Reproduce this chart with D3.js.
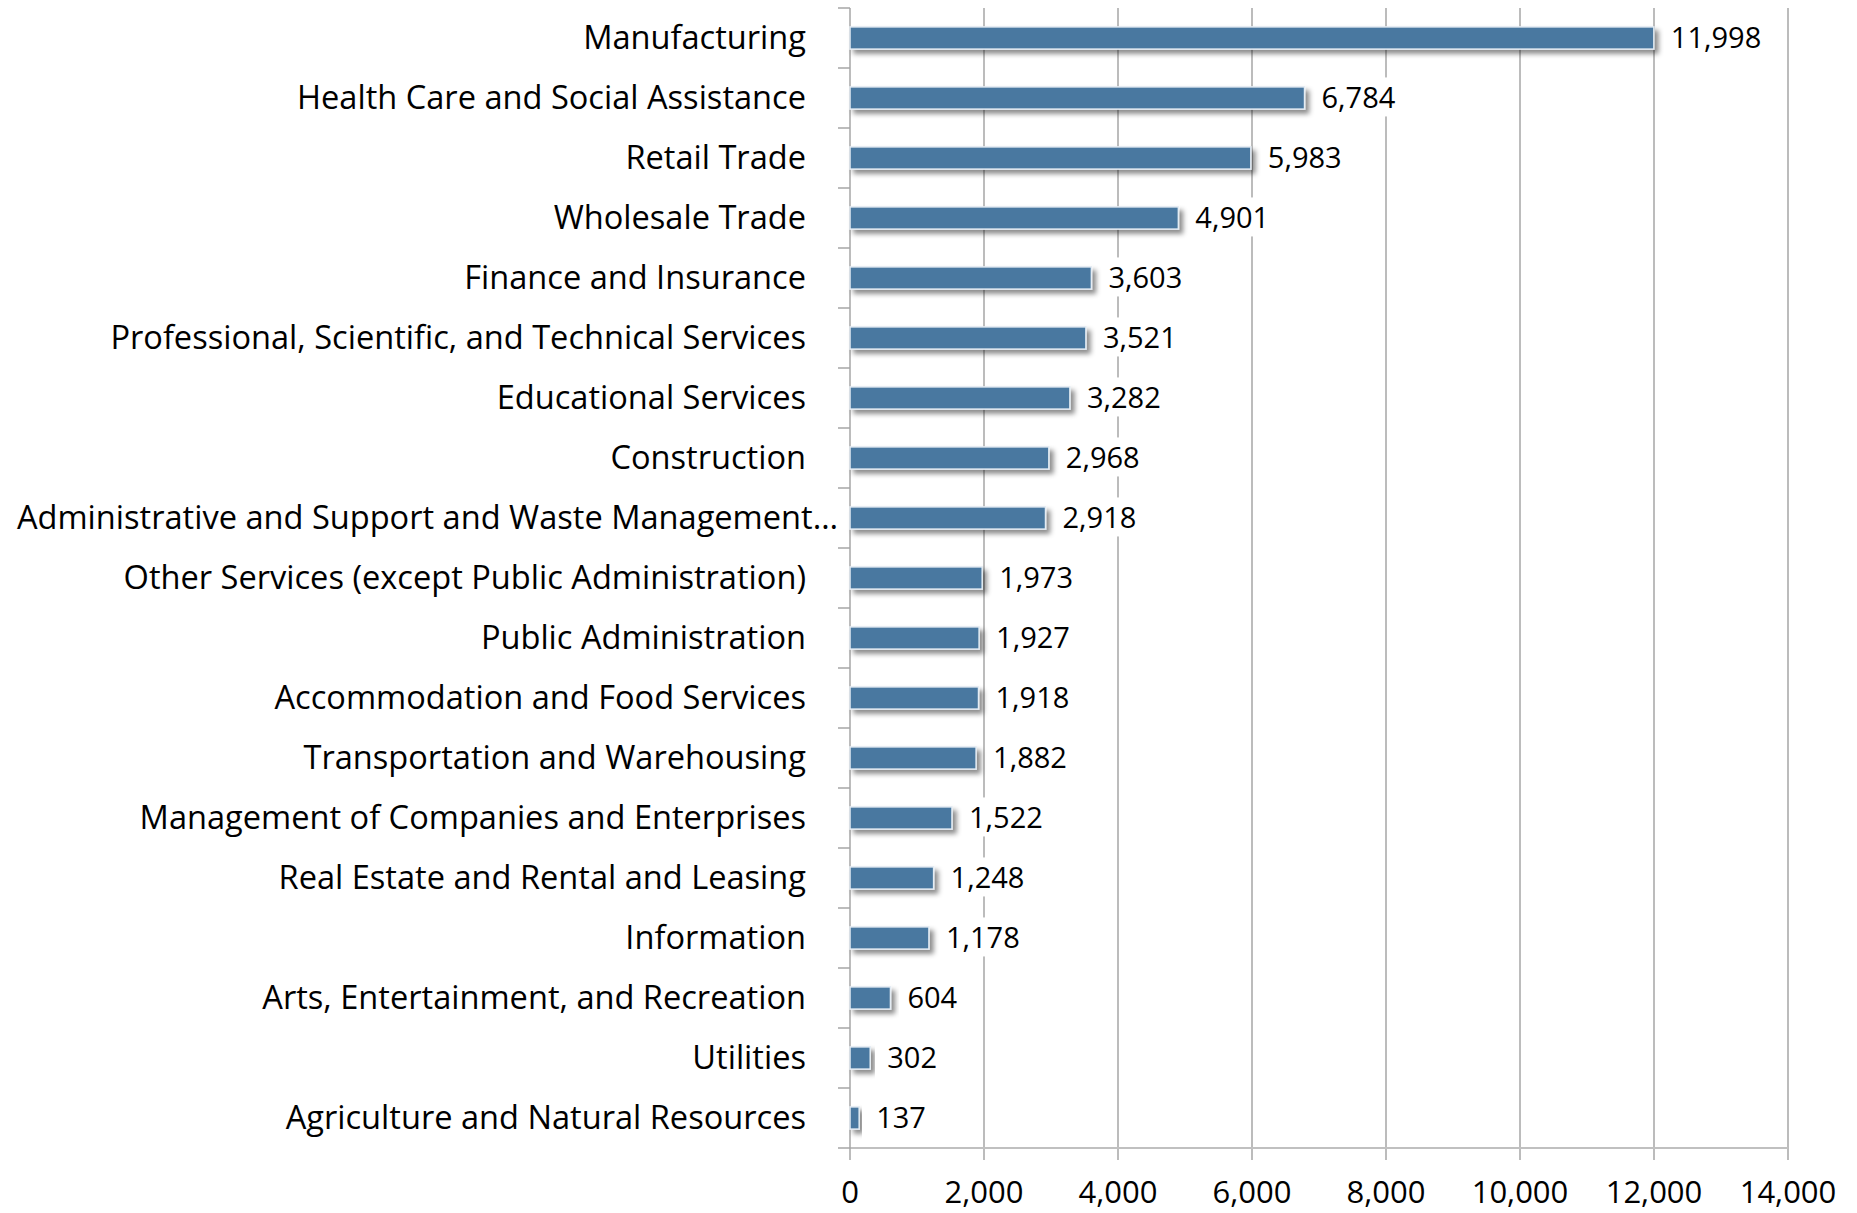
<!DOCTYPE html>
<html>
<head>
<meta charset="utf-8">
<script src="https://cdn.jsdelivr.net/npm/d3@7"></script>
<style>
  body { margin: 0; background: #fff; }
  text { font-family: "Open Sans", sans-serif; fill: #000; }
</style>
</head>
<body>
<svg id="canvas" width="1857" height="1213"></svg>
<script>
let industries = [
    "Manufacturing",
    "Health Care and Social Assistance",
    "Retail Trade",
    "Wholesale Trade",
    "Finance and Insurance",
    "Professional, Scientific, and Technical Services",
    "Educational Services",
    "Construction",
    "Administrative and Support and Waste Management…",
    "Other Services (except Public Administration)",
    "Public Administration",
    "Accommodation and Food Services",
    "Transportation and Warehousing",
    "Management of Companies and Enterprises",
    "Real Estate and Rental and Leasing",
    "Information",
    "Arts, Entertainment, and Recreation",
    "Utilities",
    "Agriculture and Natural Resources"
]

let employees = [11998, 6784, 5983, 4901, 3603, 3521, 3282, 2968, 2918, 1973, 1927, 1918, 1882, 1522, 1248, 1178, 604, 302, 137]

let xTicks = [0, 2000, 4000, 6000, 8000, 10000, 12000, 14000]

let canvas = d3.select("#canvas")

let plotLeft = 850
let plotRight = 1788
let plotTop = 8
let plotBottom = 1148

let xScale = d3.scaleLinear()
                .domain([0, 14000])
                .range([plotLeft, plotRight])

let yScale = d3.scaleBand()
                .domain(industries)
                .range([plotTop, plotBottom])

let barHeight = yScale.bandwidth() * 0.37
let fmt = d3.format(",")

// drop shadow for the bars
let defs = canvas.append("defs")
let shadow = defs.append("filter")
            .attr("id", "shadow")
            .attr("x", "-10%").attr("y", "-30%")
            .attr("width", "130%").attr("height", "200%")
shadow.append("feDropShadow")
        .attr("dx", 4)
        .attr("dy", 4)
        .attr("stdDeviation", 2.5)
        .attr("flood-color", "#000")
        .attr("flood-opacity", 0.45)

// gridlines + bottom ticks
canvas.append("g")
    .selectAll("line")
    .data(xTicks.slice(1))
    .enter()
    .append("line")
    .attr("x1", (d) => xScale(d))
    .attr("x2", (d) => xScale(d))
    .attr("y1", plotTop)
    .attr("y2", plotBottom + 12)
    .attr("stroke", "#a6a6a6")
    .attr("stroke-width", 1.5)

// bottom axis line
canvas.append("line")
    .attr("x1", plotLeft)
    .attr("x2", plotRight)
    .attr("y1", plotBottom)
    .attr("y2", plotBottom)
    .attr("stroke", "#c0c0c0")
    .attr("stroke-width", 2)

// left axis line and ticks
canvas.append("line")
    .attr("x1", plotLeft)
    .attr("x2", plotLeft)
    .attr("y1", plotTop)
    .attr("y2", plotBottom + 12)
    .attr("stroke", "#a6a6a6")
    .attr("stroke-width", 1.5)

let bounds = industries.map((d) => yScale(d)).concat([plotBottom])
canvas.append("g")
    .selectAll("line")
    .data(bounds)
    .enter()
    .append("line")
    .attr("x1", plotLeft - 12)
    .attr("x2", plotLeft)
    .attr("y1", (d) => d)
    .attr("y2", (d) => d)
    .attr("stroke", "#a6a6a6")
    .attr("stroke-width", 1.5)

// bars
canvas.append("g")
    .selectAll("rect")
    .data(industries)
    .enter()
    .append("rect")
    .attr("x", xScale(0))
    .attr("y", (d) => yScale(d) + (yScale.bandwidth() - barHeight) / 2)
    .attr("width", (d, i) => xScale(employees[i]) - xScale(0))
    .attr("height", barHeight)
    .attr("fill", "#4878a0")
    .attr("stroke", "#e4ecf3")
    .attr("stroke-width", 1.5)
    .attr("filter", "url(#shadow)")

// value labels with white boxes
let valueLabels = canvas.append("g")
    .selectAll("g")
    .data(industries)
    .enter()
    .append("g")

valueLabels.append("rect")
valueLabels.append("text")
    .attr("x", (d, i) => xScale(employees[i]) + 17)
    .attr("y", (d) => yScale(d) + yScale.bandwidth() / 2)
    .attr("dy", "0.36em")
    .style("font-size", 29 + "px")
    .text((d, i) => fmt(employees[i]))

valueLabels.each(function () {
    let g = d3.select(this)
    let box = g.select("text").node().getBBox()
    g.select("rect")
        .attr("x", box.x - 3)
        .attr("y", box.y)
        .attr("width", box.width + 6)
        .attr("height", box.height)
        .attr("fill", "#fff")
})

// category labels
canvas.append("g")
    .selectAll("text")
    .data(industries)
    .enter()
    .append("text")
    .attr("x", (d) => d.endsWith("…") ? plotLeft - 12 : plotLeft - 44)
    .attr("y", (d) => yScale(d) + yScale.bandwidth() / 2)
    .attr("dy", "0.34em")
    .attr("text-anchor", "end")
    .style("font-size", 32.6 + "px")
    .text((d) => d)

// tick labels
canvas.append("g")
    .selectAll("text")
    .data(xTicks)
    .enter()
    .append("text")
    .attr("x", (d) => xScale(d))
    .attr("y", 1192)
    .attr("dy", "0.36em")
    .attr("text-anchor", "middle")
    .style("font-size", 31 + "px")
    .text((d) => fmt(d))
</script>
</body>
</html>
